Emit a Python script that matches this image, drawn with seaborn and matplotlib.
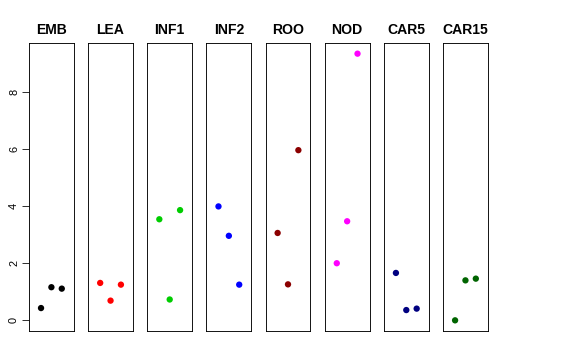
import numpy as np
import pandas as pd
import matplotlib
matplotlib.use("Agg")
import matplotlib.pyplot as plt
import seaborn as sns

# tissues and their three replicate values
tissues = ["EMB", "LEA", "INF1", "INF2", "ROO", "NOD", "CAR5", "CAR15"]
values = [
    [0.43, 1.16, 1.11],
    [1.31, 0.69, 1.25],
    [3.54, 0.73, 3.86],
    [3.99, 2.96, 1.25],
    [3.06, 1.26, 5.96],
    [2.00, 3.47, 9.34],
    [1.66, 0.36, 0.41],
    [0.00, 1.40, 1.46],
]
replicate = [1, 2, 3]
colors = ["#000000", "#FF0000", "#00CD00", "#0000FF",
          "#8B0000", "#FF00FF", "#000080", "#006400"]

df = pd.DataFrame({
    "tissue": np.repeat(tissues, len(replicate)),
    "rep": replicate * len(tissues),
    "value": np.concatenate(values),
})

sns.set_style("white")
plt.rcParams["font.family"] = ["Liberation Sans", "DejaVu Sans"]
plt.rcParams["text.color"] = "black"
plt.rcParams["ytick.color"] = "black"

fig = plt.figure(figsize=(8, 5), dpi=72)

ymin, ymax = df["value"].min(), df["value"].max()
pad = (ymax - ymin) * 0.04

W, H = 576.0, 360.0
for i, (t, c) in enumerate(zip(tissues, colors)):
    left = 29 + i * 59.15
    ax = fig.add_axes([left / W, (H - 331) / H, 44.8 / W, 288 / H])
    sub = df[df["tissue"] == t]
    sns.scatterplot(data=sub, x="rep", y="value", color=c, s=40,
                    edgecolor="none", ax=ax, legend=False)
    ax.set_xlim(-0.16, 4.16)
    ax.set_ylim(ymin - pad, ymax + pad)
    ax.set_xlabel("")
    ax.set_ylabel("")
    ax.set_xticks([])
    ax.set_title(t, fontsize=14, fontweight="bold", pad=9, color="black")
    for sp in ax.spines.values():
        sp.set_visible(True)
        sp.set_color("black")
        sp.set_linewidth(0.9)
    if i == 0:
        ax.set_yticks([0, 2, 4, 6, 8])
        ax.tick_params(axis="y", direction="out", length=7, width=0.8,
                       labelsize=11, pad=3, left=True, color="black",
                       labelcolor="black")
        for lab in ax.get_yticklabels():
            lab.set_rotation(90)
            lab.set_va("center")
    else:
        ax.set_yticks([])

fig.savefig("out.png", dpi=72)
